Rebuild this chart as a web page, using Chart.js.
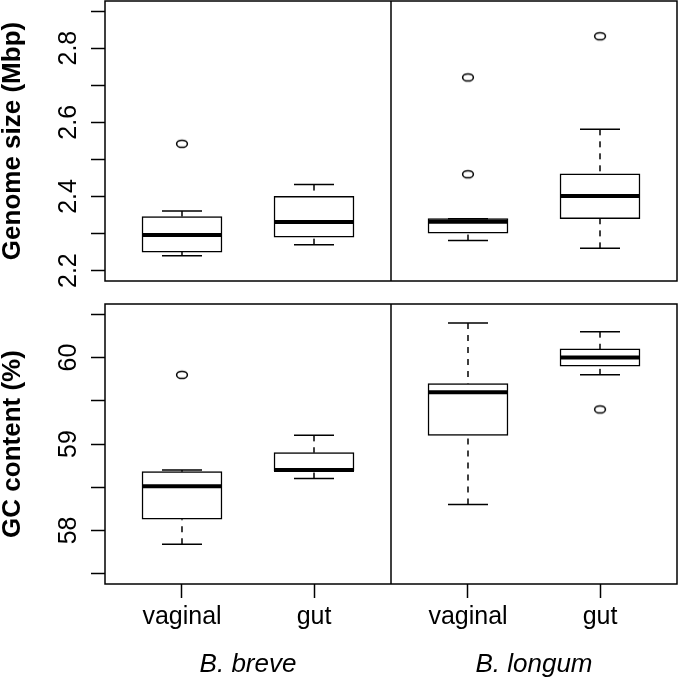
<!DOCTYPE html>
<html>
<head>
<meta charset="utf-8">
<script src="https://cdn.jsdelivr.net/npm/chart.js@4.4.1/dist/chart.umd.min.js"></script>
<style>
  html, body { margin: 0; padding: 0; background: #fff; }
  #wrap { position: relative; width: 678px; height: 679px; }
  .panel { position: absolute; left: 0; width: 678px; }
  #top { top: 0; height: 290px; }
  #bottom { top: 290px; height: 389px; }
</style>
</head>
<body>
<div id="wrap">
  <div class="panel" id="top"><canvas id="genomeChart"></canvas></div>
  <div class="panel" id="bottom"><canvas id="gcChart"></canvas></div>
</div>
<script>
const groups = ['vaginal', 'gut', 'vaginal', 'gut'];
const species = ['B. breve', 'B. longum'];

// genome size (Mbp)
const genomeMin = [2.240, 2.270, 2.281, 2.260];
const genomeQ1 = [2.250, 2.290, 2.301, 2.340];
const genomeMedian = [2.296, 2.331, 2.332, 2.401];
const genomeQ3 = [2.346, 2.400, 2.340, 2.461];
const genomeMax = [2.361, 2.432, 2.340, 2.581];
const genomeOutliers = [[2.542], [], [2.460, 2.721], [2.832]];
const genomeTicks = [2.2, 2.3, 2.4, 2.5, 2.6, 2.7, 2.8, 2.9];
const genomeTickLabels = ['2.2', '', '2.4', '', '2.6', '', '2.8', ''];

// GC content (%)
const gcMin = [57.84, 58.60, 58.30, 59.80];
const gcQ1 = [58.13, 58.69, 59.10, 59.90];
const gcMedian = [58.51, 58.70, 59.60, 60.00];
const gcQ3 = [58.68, 58.90, 59.70, 60.10];
const gcMax = [58.70, 59.10, 60.40, 60.30];
const gcOutliers = [[59.80], [], [], [59.40]];
const gcTicks = [57.5, 58, 58.5, 59, 59.5, 60, 60.5];
const gcTickLabels = ['', '58', '', '59', '', '60', ''];

Chart.defaults.font.family = "'Liberation Sans', Arial, sans-serif";
Chart.defaults.color = '#000';

// two boxes per species panel, panels side by side
const panelMargin = 0.5833;
const panelGap = 2 * panelMargin - 1;
const xPos = groups.map((g, i) => i + 1 + Math.floor(i / 2) * panelGap);
const xMin = xPos[0] - panelMargin;
const xMax = xPos[3] + panelMargin;
const divider = xPos[1] + panelMargin;
const speciesPos = [(xPos[0] + xPos[1]) / 2, (xPos[2] + xPos[3]) / 2];

function outlierMarker() {
  const c = document.createElement('canvas');
  c.width = 16; c.height = 12;
  const g = c.getContext('2d');
  g.strokeStyle = '#000';
  g.lineWidth = 1.5;
  g.beginPath();
  g.ellipse(8, 6, 5.4, 3.6, 0, 0, Math.PI * 2);
  g.stroke();
  return c;
}
const marker = outlierMarker();

function noPadding(s) {
  s.paddingLeft = 0;
  s.paddingRight = 0;
  s.paddingTop = 0;
  s.paddingBottom = 0;
}

function boxPlugin(lo, q1, med, q3, hi) {
  return {
    id: 'boxes',
    afterDatasetsDraw(chart) {
      const { ctx, chartArea: a, scales: { x, y } } = chart;
      const bars = chart.getDatasetMeta(0).data;
      ctx.save();
      ctx.strokeStyle = '#000';
      ctx.lineCap = 'butt';
      bars.forEach((bar, i) => {
        const half = bar.width / 2;
        const cx = bar.x;
        ctx.lineWidth = 1.5;
        ctx.setLineDash([6, 6]);
        [[hi[i], q3[i]], [lo[i], q1[i]]].forEach(([end, edge]) => {
          ctx.beginPath();
          ctx.moveTo(cx, y.getPixelForValue(end));
          ctx.lineTo(cx, y.getPixelForValue(edge));
          ctx.stroke();
        });
        ctx.setLineDash([]);
        [hi[i], lo[i]].forEach(v => {
          const py = y.getPixelForValue(v);
          ctx.beginPath();
          ctx.moveTo(cx - half / 2, py);
          ctx.lineTo(cx + half / 2, py);
          ctx.stroke();
        });
        ctx.lineWidth = 4;
        const my = y.getPixelForValue(med[i]);
        ctx.beginPath();
        ctx.moveTo(cx - half, my);
        ctx.lineTo(cx + half, my);
        ctx.stroke();
      });
      ctx.lineWidth = 1.5;
      ctx.strokeRect(a.left, a.top, a.right - a.left, a.bottom - a.top);
      const dx = x.getPixelForValue(divider);
      ctx.beginPath();
      ctx.moveTo(dx, a.top);
      ctx.lineTo(dx, a.bottom);
      ctx.stroke();
      ctx.restore();
    }
  };
}

function yScale(min, max, ticks, labels, title, pad) {
  return {
    min: min,
    max: max,
    afterBuildTicks: s => { s.ticks = ticks.map(v => ({ value: v })); },
    afterFit: s => { s.width = 105; noPadding(s); },
    ticks: {
      callback: (v, i) => labels[i],
      minRotation: 90, maxRotation: 90, crossAlign: 'center',
      padding: pad, autoSkip: false, font: { size: 25 }
    },
    grid: { drawOnChartArea: false, tickLength: 14, tickWidth: 1.5, tickColor: '#000' },
    border: { display: false },
    title: { display: true, text: title, padding: 0, font: { size: 26, weight: 'bold', lineHeight: 1 } }
  };
}

function datasets(q1, q3, outliers) {
  return [
    {
      type: 'bar',
      data: xPos.map((x, i) => ({ x: x, y: [q1[i], q3[i]] })),
      backgroundColor: '#fff',
      borderColor: '#000',
      borderWidth: 1.5,
      borderSkipped: false,
      barThickness: 80
    },
    {
      type: 'scatter',
      data: outliers.flatMap((vals, i) => vals.map(v => ({ x: xPos[i], y: v }))),
      pointStyle: marker,
      borderColor: '#000',
      backgroundColor: 'transparent'
    }
  ];
}

const common = {
  responsive: true,
  maintainAspectRatio: false,
  animation: false,
  plugins: { legend: { display: false }, tooltip: { enabled: false } }
};

new Chart(document.getElementById('genomeChart'), {
  type: 'bar',
  data: { datasets: datasets(genomeQ1, genomeQ3, genomeOutliers) },
  options: Object.assign({}, common, {
    layout: { autoPadding: false, padding: { top: 1, right: 1, bottom: 9, left: 0 } },
    scales: {
      x: { type: 'linear', min: xMin, max: xMax, offset: false, display: false, grid: { offset: false } },
      y: yScale(2.172, 2.927, genomeTicks, genomeTickLabels, 'Genome size (Mbp)', 5)
    }
  }),
  plugins: [boxPlugin(genomeMin, genomeQ1, genomeMedian, genomeQ3, genomeMax)]
});

new Chart(document.getElementById('gcChart'), {
  type: 'bar',
  data: { datasets: datasets(gcQ1, gcQ3, gcOutliers) },
  options: Object.assign({}, common, {
    layout: { autoPadding: false, padding: { top: 14, right: 1, bottom: 0, left: 0 } },
    scales: {
      x: {
        type: 'linear', min: xMin, max: xMax, offset: false, weight: 0,
        afterBuildTicks: s => { s.ticks = xPos.map(v => ({ value: v })); },
        afterFit: s => { s.height = 45; noPadding(s); },
        ticks: { callback: (v, i) => groups[i], autoSkip: false, maxRotation: 0, padding: 4, font: { size: 25 } },
        grid: { offset: false, drawOnChartArea: false, tickLength: 14, tickWidth: 1.5, tickColor: '#000' },
        border: { display: false }
      },
      species: {
        type: 'linear', axis: 'x', position: 'bottom', min: xMin, max: xMax, offset: false, weight: 1,
        afterBuildTicks: s => { s.ticks = speciesPos.map(v => ({ value: v })); },
        afterFit: s => { s.height = 50; noPadding(s); },
        ticks: { callback: (v, i) => species[i], autoSkip: false, maxRotation: 0, padding: 20, font: { size: 26, style: 'italic' } },
        grid: { display: false, drawTicks: false },
        border: { display: false }
      },
      y: yScale(57.38, 60.62, gcTicks, gcTickLabels, 'GC content (%)', 8)
    }
  }),
  plugins: [boxPlugin(gcMin, gcQ1, gcMedian, gcQ3, gcMax)]
});
</script>
</body>
</html>
